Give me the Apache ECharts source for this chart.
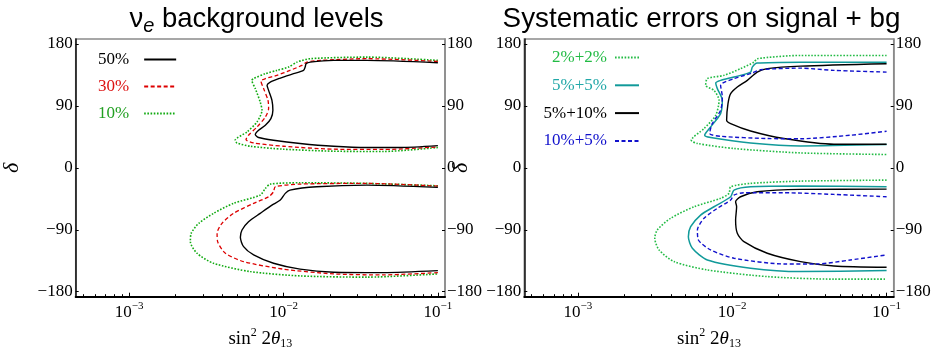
<!DOCTYPE html>
<html>
<head>
<meta charset="utf-8">
<script src="https://cdn.jsdelivr.net/npm/echarts@6/dist/echarts.min.js"></script>
<style>
html,body{margin:0;padding:0;background:#fff;}
#c{width:937px;height:347px;}
</style>
</head>
<body>
<div id="c"></div>
<script>
// ---- axis ranges & ticks ----
const xMin = 4.5e-4, xMax = 0.1112;
const yMin = -187.2, yMax = 187.2;
const xMajorTicks = [0.001, 0.01, 0.1];
const xMinorTicks = [0.0005, 0.0006, 0.0007, 0.0008, 0.0009,
  0.002, 0.003, 0.004, 0.005, 0.006, 0.007, 0.008, 0.009,
  0.02, 0.03, 0.04, 0.05, 0.06, 0.07, 0.08, 0.09];
const yTicks = [-180, -90, 0, 90, 180];

// ---- titles / labels ----
const titleLeft = 'ν{sub|e} background levels';
const titleRight = 'Systematic errors on signal + bg';
const legendLeft = ['50%', '30%', '10%'];
const legendRight = ['2%+2%', '5%+5%', '5%+10%', '10%+5%'];

// ---- left panel: nu_e background levels  [sin^2 2theta13, delta] ----
const bg50Upper = [[0.1,152.8],[0.0347,156.1],[0.0211,156.1],[0.0149,153.6],[0.0140,151.3],[0.0138,146.4],[0.01346,141.6],[0.0116,136.8],[0.00953,130.4],[0.0082,124.6],[0.00782,119.9],[0.0080,112.6],[0.00841,98.1],[0.00853,83.6],[0.00828,71.6],[0.00762,61.9],[0.00689,54.6],[0.00656,48.4],[0.00689,44.1],[0.00861,40.1],[0.0128,35.4],[0.0211,31.4],[0.0347,29.6],[0.0569,29.6],[0.1,32.3]];
const bg50Lower = [[0.1,-28.4],[0.0347,-25.1],[0.0164,-27.5],[0.0110,-32.3],[0.01026,-37.1],[0.00953,-46.8],[0.00841,-54.1],[0.00706,-66.1],[0.00593,-78.3],[0.00538,-90.3],[0.00525,-100.9],[0.00551,-114.5],[0.0064,-126.5],[0.00861,-138.6],[0.0128,-147.2],[0.0211,-151.6],[0.0444,-152.2],[0.1,-149.3]];
const bg30Upper = [[0.1,154.6],[0.0347,158.6],[0.0173,156.1],[0.01417,153.6],[0.01315,148.8],[0.0110,141.6],[0.00906,134.4],[0.00762,129.6],[0.00714,126.1],[0.00743,115.1],[0.00793,98.1],[0.0080,86.1],[0.00762,73.9],[0.00673,59.4],[0.00593,47.4],[0.00571,41.2],[0.0064,36.2],[0.01,31.4],[0.0211,27.1],[0.0444,26.7],[0.1,30.4]];
const bg30Lower = [[0.1,-26.5],[0.0347,-22.6],[0.0128,-23.6],[0.00883,-27.5],[0.00861,-34.8],[0.0080,-42.0],[0.0064,-51.6],[0.00474,-66.1],[0.00399,-80.6],[0.00371,-95.1],[0.00374,-107.2],[0.0042,-124.1],[0.00551,-136.2],[0.01,-147.2],[0.0211,-154.1],[0.0444,-155.5],[0.1,-152.2]];
const bg10Upper = [[0.1,156.1],[0.0347,160.9],[0.0149,158.6],[0.0122,153.6],[0.01077,146.4],[0.00906,141.6],[0.00762,136.8],[0.0064,129.6],[0.00624,127.1],[0.00656,115.1],[0.00706,95.7],[0.00725,83.6],[0.00673,66.7],[0.0058,52.2],[0.00486,40.1],[0.00499,36.2],[0.00608,31.4],[0.01,27.1],[0.0211,24.2],[0.0444,23.8],[0.1,29.6]];
const bg10Lower = [[0.1,-26.1],[0.0347,-22.6],[0.0128,-21.7],[0.0082,-23.6],[0.00762,-29.9],[0.00706,-39.6],[0.00474,-51.6],[0.00352,-66.1],[0.00282,-80.6],[0.00252,-95.1],[0.00249,-107.2],[0.00275,-124.1],[0.00352,-138.6],[0.00608,-150.7],[0.0128,-157.0],[0.0347,-158.8],[0.1,-154.1]];

// ---- right panel: systematic errors on signal + bg ----
const sys22Upper = [[0.1,163.3],[0.0277,163.3],[0.01452,158.6],[0.01384,153.6],[0.01133,144.1],[0.00885,134.4],[0.0069,129.6],[0.00673,119.9],[0.00762,112.6],[0.00822,98.1],[0.00782,76.4],[0.00657,57.1],[0.00543,40.1],[0.00595,35.4],[0.01027,28.1],[0.0277,21.7],[0.1,19.4]];
const sys22Lower = [[0.1,-17.8],[0.0277,-19.3],[0.01315,-22.6],[0.00977,-27.5],[0.00953,-37.1],[0.00841,-44.3],[0.00566,-56.5],[0.00399,-73.3],[0.00327,-90.3],[0.00315,-102.3],[0.00336,-119.3],[0.0042,-136.2],[0.0069,-148.3],[0.01687,-158.0],[0.0456,-161.7],[0.1,-161.7]];
const sys55Upper = [[0.1,153.6],[0.0277,153.6],[0.01452,152.2],[0.01349,146.4],[0.01315,139.1],[0.01027,131.9],[0.00841,127.1],[0.00782,123.2],[0.00801,115.1],[0.00863,98.1],[0.00841,78.8],[0.00725,59.4],[0.00663,47.4],[0.00725,44.1],[0.01315,36.2],[0.0277,31.9],[0.1,33.9]];
const sys55Lower = [[0.1,-27.5],[0.0277,-26.5],[0.01315,-27.5],[0.01027,-32.3],[0.00977,-42.0],[0.00762,-56.5],[0.00624,-68.6],[0.00538,-85.5],[0.0052,-100.0],[0.00552,-116.8],[0.0069,-133.8],[0.01315,-145.8],[0.0277,-150.7],[0.1,-149.3]];
const sys510Upper = [[0.1,151.3],[0.0277,147.8],[0.01687,144.1],[0.01452,139.1],[0.01253,127.1],[0.01079,117.4],[0.00977,107.8],[0.00939,93.3],[0.0092,69.1],[0.00977,64.3],[0.01315,53.6],[0.0216,42.6],[0.0456,34.3],[0.1,34.3]];
const sys510Lower = [[0.1,-30.9],[0.0277,-31.3],[0.01452,-34.8],[0.01133,-42.0],[0.01052,-49.3],[0.01068,-56.5],[0.01052,-75.8],[0.01079,-95.1],[0.01191,-107.2],[0.01687,-124.1],[0.0277,-136.2],[0.0456,-142.5],[0.1,-144.4]];
const sys105Upper = [[0.1,139.1],[0.0456,141.6],[0.0277,144.9],[0.01528,142.6],[0.01349,137.7],[0.01027,129.6],[0.00841,119.9],[0.00863,102.9],[0.00841,83.6],[0.00743,64.3],[0.00714,49.9],[0.00841,45.9],[0.01687,42.6],[0.0277,42.3],[0.0583,47.4],[0.1,53.2]];
const sys105Lower = [[0.1,-42.0],[0.0456,-38.6],[0.0216,-36.2],[0.01191,-36.2],[0.01027,-39.6],[0.00977,-46.8],[0.00801,-58.8],[0.00657,-73.3],[0.00595,-90.3],[0.00604,-104.8],[0.00725,-119.3],[0.01027,-131.3],[0.0216,-139.6],[0.0356,-139.6],[0.0583,-133.8],[0.1,-126.5]];

// ---- styles ----
const SERIF = 'Liberation Serif';
const SANS = 'Liberation Sans';
const C = {black:'#000000', red:'#dd0000', green:'#11aa11', green2:'#22bb44', teal:'#119a9a', blue:'#1111cc'};
const DASH = [4, 2.5], DOT = [1.6, 1.6];

function line(name, data, panel, color, width, type) {
  return {
    type: 'line', name: name, data: data,
    xAxisIndex: panel * 2, yAxisIndex: panel * 2,
    symbol: 'none', showSymbol: false, smooth: 0.25,
    silent: true, animation: false,
    lineStyle: {color: color, width: width, type: type, cap: 'butt'},
    itemStyle: {color: color}
  };
}

const series = [
  line(legendLeft[2], bg10Upper, 0, C.green, 1.6, DOT),
  line(legendLeft[2], bg10Lower, 0, C.green, 1.6, DOT),
  line(legendLeft[1], bg30Upper, 0, C.red, 1.3, DASH),
  line(legendLeft[1], bg30Lower, 0, C.red, 1.3, DASH),
  line(legendLeft[0], bg50Upper, 0, C.black, 1.4, 'solid'),
  line(legendLeft[0], bg50Lower, 0, C.black, 1.4, 'solid'),
  line(legendRight[0], sys22Upper, 1, C.green2, 1.6, DOT),
  line(legendRight[0], sys22Lower, 1, C.green2, 1.6, DOT),
  line(legendRight[1], sys55Upper, 1, C.teal, 1.5, 'solid'),
  line(legendRight[1], sys55Lower, 1, C.teal, 1.5, 'solid'),
  line(legendRight[2], sys510Upper, 1, C.black, 1.4, 'solid'),
  line(legendRight[2], sys510Lower, 1, C.black, 1.4, 'solid'),
  line(legendRight[3], sys105Upper, 1, C.blue, 1.4, DASH),
  line(legendRight[3], sys105Lower, 1, C.blue, 1.4, DASH)
];

const grids = [
  {left: 75.7, top: 39, width: 369.3, height: 257.7},
  {left: 524.3, top: 39, width: 369.4, height: 257.7}
].map(g => Object.assign(g, {show: true, borderColor: '#8a8a8a', borderWidth: 1.5, backgroundColor: 'transparent', containLabel: false, outerBoundsMode: 'none'}));

const xName = 'sin{sup|2} 2{it|θ}{sub|13}';
function xAxes(gi) {
  return [
    {
      type: 'log', logBase: 10, gridIndex: gi, min: xMin, max: xMax, position: 'bottom',
      axisLine: {show: true, onZero: false, lineStyle: {color: '#000', width: 2}},
      axisTick: {show: true, inside: true, length: 4, customValues: xMajorTicks, lineStyle: {color: '#000', width: 1}},
      axisLabel: {
        customValues: xMajorTicks, margin: 4, color: '#000', fontFamily: SERIF, fontSize: 17,
        formatter: v => '10{sup|−' + Math.round(-Math.log10(v)) + '}',
        rich: {sup: {fontFamily: SERIF, fontSize: 11, color: '#000', padding: [0, 0, 12, 0]}}
      },
      splitLine: {show: false}, minorTick: {show: false},
      name: xName, nameLocation: 'middle', nameGap: 30,
      nameTextStyle: {
        fontFamily: SERIF, fontSize: 19, color: '#000',
        rich: {
          sup: {fontFamily: SERIF, fontSize: 12, color: '#000', padding: [0, 0, 12, 0]},
          it: {fontFamily: SERIF, fontSize: 19, fontStyle: 'italic', color: '#000'},
          sub: {fontFamily: SERIF, fontSize: 12, color: '#000', padding: [10, 0, 0, 0]}
        }
      }
    },
    {
      type: 'log', logBase: 10, gridIndex: gi, min: xMin, max: xMax, position: 'bottom',
      axisLine: {show: false, onZero: false},
      axisTick: {show: true, inside: true, length: 2.5, customValues: xMinorTicks, lineStyle: {color: '#000', width: 1}},
      axisLabel: {show: false}, splitLine: {show: false}
    }
  ];
}
const yFmt = v => String(v).replace('-', '−');
function yAxes(gi) {
  return [
    {
      type: 'value', gridIndex: gi, min: yMin, max: yMax, position: 'left',
      axisLine: {show: true, onZero: false, lineStyle: {color: '#111', width: 1.5}},
      axisTick: {show: true, inside: true, length: 3, customValues: yTicks, lineStyle: {color: '#000'}},
      axisLabel: {customValues: yTicks, margin: 3, formatter: yFmt, fontFamily: SERIF, fontSize: 17, color: '#000'},
      splitLine: {show: false},
      name: 'δ', nameLocation: 'middle', nameGap: 52,
      nameTextStyle: {fontFamily: SERIF, fontStyle: 'italic', fontSize: 22, color: '#000'}
    },
    {
      type: 'value', gridIndex: gi, min: yMin, max: yMax, position: 'right',
      axisLine: {show: true, onZero: false, lineStyle: {color: '#8a8a8a', width: 1.5}},
      axisTick: {show: true, inside: true, length: 3, customValues: yTicks, lineStyle: {color: '#000'}},
      axisLabel: {customValues: yTicks, margin: 2, formatter: yFmt, fontFamily: SERIF, fontSize: 17, color: '#000'},
      splitLine: {show: false}
    }
  ];
}

const legTextColorsLeft = [C.black, '#dd1111', '#22a022'];
const legTextColorsRight = ['#22bb44', '#22a8a8', C.black, '#1111cc'];

const option = {
  animation: false,
  backgroundColor: '#fff',
  title: [
    {
      text: titleLeft, left: 251.5, top: -3, textAlign: 'center',
      textStyle: {
        fontFamily: SANS, fontSize: 27.5, fontWeight: 'normal', color: '#000',
        rich: {sub: {fontFamily: SANS, fontSize: 20, fontStyle: 'italic', color: '#000', padding: [14, 0, 0, 0]}}
      }
    },
    {
      text: titleRight, left: 696.5, top: 0, textAlign: 'center',
      textStyle: {fontFamily: SANS, fontSize: 27.8, fontWeight: 'normal', color: '#000'}
    }
  ],
  legend: [
    {
      orient: 'vertical', align: 'right', left: 93, top: 46,
      itemWidth: 32, itemHeight: 14, itemGap: 10, selectedMode: false,
      itemStyle: {opacity: 0},
      textStyle: {fontFamily: SERIF, fontSize: 17, padding: [0, 10, 0, 0]},
      data: legendLeft.map((n, i) => ({name: n, textStyle: {color: legTextColorsLeft[i]}}))
    },
    {
      orient: 'vertical', align: 'right', left: 538.6, top: 44,
      itemWidth: 24, itemHeight: 14, itemGap: 10.8, selectedMode: false,
      itemStyle: {opacity: 0},
      textStyle: {fontFamily: SERIF, fontSize: 17, padding: [0, 3, 0, 0]},
      data: legendRight.map((n, i) => ({name: n, textStyle: {color: legTextColorsRight[i]}}))
    }
  ],
  grid: grids,
  xAxis: xAxes(0).concat(xAxes(1)),
  yAxis: yAxes(0).concat(yAxes(1)),
  series: series
};

const chart = echarts.init(document.getElementById('c'), null, {renderer: 'canvas'});
chart.setOption(option);
</script>
</body>
</html>
